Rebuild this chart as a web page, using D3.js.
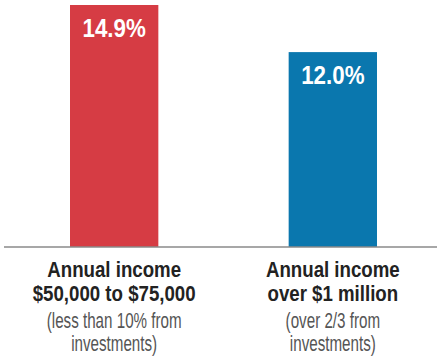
<!DOCTYPE html>
<html>
<head>
<meta charset="utf-8">
<script src="https://cdn.jsdelivr.net/npm/d3@7"></script>
<style>
  html, body { margin: 0; padding: 0; background: #fff; }
  svg { display: block; }
  text { font-family: "Liberation Sans", Arial, sans-serif; }
</style>
</head>
<body>
<svg id="chart" width="437" height="360"></svg>
<script>
// Effective tax rate by income group
const categories = ["low", "high"];
const values = [14.9, 12.0];
const valueLabels = ["14.9%", "12.0%"];
const colors = ["#d63c44", "#0a77ae"];
const titleLines = [
  ["Annual income", "$50,000 to $75,000"],
  ["Annual income", "over $1 million"]
];
const noteLines = [
  ["(less than 10% from", "investments)"],
  ["(over 2/3 from", "investments)"]
];

const svg = d3.select("#chart");
const width = 437;
const baseY = 247;

const x = d3.scaleBand()
  .domain(categories)
  .range([70, 377])
  .paddingInner(0.596)
  .paddingOuter(0);

const y = d3.scaleLinear()
  .domain([0, 14.9])
  .range([baseY, 5]);

svg.selectAll("rect.bar")
  .data(values)
  .join("rect")
  .attr("class", "bar")
  .attr("x", (d, i) => x(categories[i]))
  .attr("width", x.bandwidth())
  .attr("y", d => y(d))
  .attr("height", d => y(0) - y(d))
  .attr("fill", (d, i) => colors[i]);

// baseline
svg.append("line")
  .attr("x1", 4).attr("x2", width)
  .attr("y1", baseY).attr("y2", baseY)
  .attr("stroke", "#8a8a8a")
  .attr("stroke-width", 1.5);

// condensed text helper: narrow the glyphs horizontally around the anchor
function condensed(cx, cy, sx, txt, opts) {
  svg.append("text")
    .attr("transform", `translate(${cx},${cy}) scale(${sx},1)`)
    .attr("text-anchor", "middle")
    .attr("fill", opts.fill)
    .attr("font-weight", opts.weight || "normal")
    .attr("font-size", opts.size)
    .text(txt);
}

// value labels inside the bars
values.forEach((d, i) => {
  const cx = x(categories[i]) + x.bandwidth() / 2;
  condensed(cx, y(d) + 32, 0.86, valueLabels[i], { fill: "#fff", weight: "bold", size: 26 });
});

// category labels below the axis
categories.forEach((c, i) => {
  const cx = x(c) + x.bandwidth() / 2;
  titleLines[i].forEach((t, j) => {
    condensed(cx, 277 + j * 24, 0.83, t, { fill: "#222", weight: "bold", size: 22.5 });
  });
  noteLines[i].forEach((t, j) => {
    condensed(cx, 328 + j * 23, 0.69, t, { fill: "#555", size: 22 });
  });
});
</script>
</body>
</html>
